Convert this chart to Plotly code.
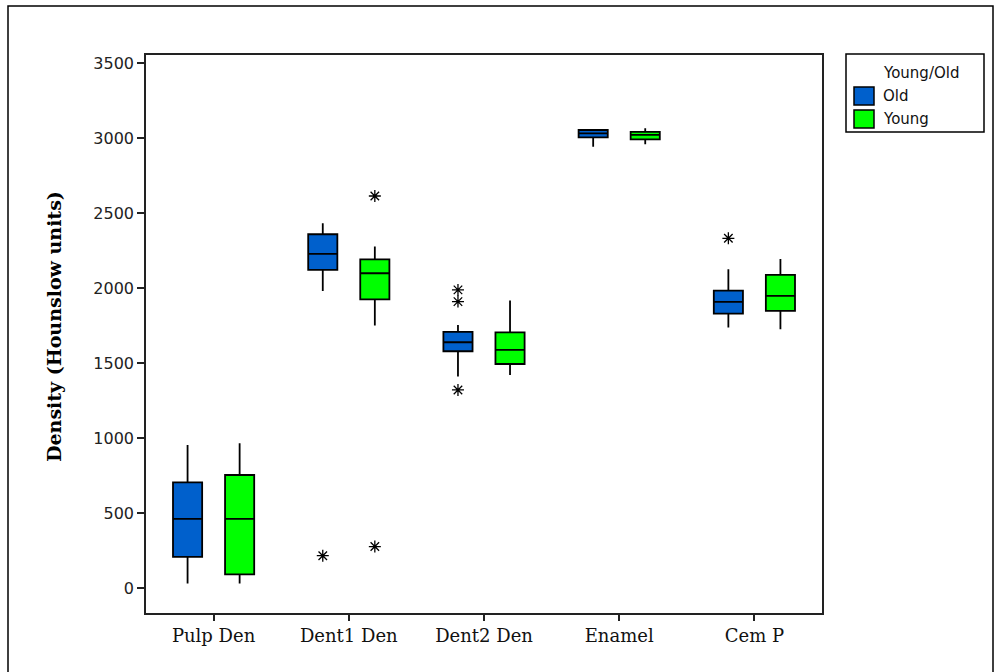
import plotly.graph_objects as go

categories = ["Pulp Den", "Dent1 Den", "Dent2 Den", "Enamel", "Cem P"]

# Old group summary statistics
old_q1 = [207, 2120, 1578, 3004, 1829]
old_median = [460, 2227, 1638, 3031, 1907]
old_q3 = [704, 2358, 1707, 3053, 1982]
old_lower = [29, 1980, 1409, 2942, 1736]
old_upper = [953, 2431, 1753, 3053, 2124]
old_outliers = [[], [215], [1320, 1909, 1987], [], [2331]]

# Young group summary statistics
young_q1 = [91, 1924, 1493, 2991, 1847]
young_median = [460, 2098, 1587, 3020, 1947]
young_q3 = [753, 2191, 1704, 3040, 2087]
young_lower = [29, 1749, 1420, 2958, 1724]
young_upper = [964, 2276, 1916, 3064, 2193]
young_outliers = [[], [276, 2613], [], [], []]

y_ticks = [0, 500, 1000, 1500, 2000, 2500, 3000, 3500]

OLD_COLOR = "#0060CC"
YOUNG_COLOR = "#00FF00"

# plot-area geometry in pixels (for paper-coordinate decorations)
PL, PR, PT, PB = 146, 822, 55, 613


def pxx(x):
    return (x - PL) / (PR - PL)


def pxy(y):
    return (PB - y) / (PB - PT)


def box_trace(name, color, q1, med, q3, lo, hi, outl):
    return go.Box(
        name=name,
        x=categories,
        y=[pts if pts else [m] for pts, m in zip(outl, med)],
        q1=q1, median=med, q3=q3, lowerfence=lo, upperfence=hi,
        boxpoints="outliers",
        jitter=0, pointpos=0,
        whiskerwidth=0,
        fillcolor=color,
        line=dict(color="#000000", width=1.8),
        marker=dict(symbol="asterisk-open", size=10, color="#000000",
                    line=dict(color="#000000", width=1.3)),
        showlegend=False,
        hoverinfo="skip",
    )


fig = go.Figure()
fig.add_trace(box_trace("Old", OLD_COLOR, old_q1, old_median, old_q3,
                        old_lower, old_upper, old_outliers))
fig.add_trace(box_trace("Young", YOUNG_COLOR, young_q1, young_median, young_q3,
                        young_lower, young_upper, young_outliers))

shapes = []
annotations = []

# outer frame
shapes.append(dict(type="rect", xref="paper", yref="paper",
                   x0=pxx(8), x1=pxx(993), y0=pxy(700), y1=pxy(6),
                   line=dict(color="#000000", width=1.5), layer="below"))
# legend frame
shapes.append(dict(type="rect", xref="paper", yref="paper",
                   x0=pxx(846), x1=pxx(984), y0=pxy(132), y1=pxy(54),
                   line=dict(color="#000000", width=1.5)))
legend_items = [("Old", OLD_COLOR, 87, 105), ("Young", YOUNG_COLOR, 110, 128)]
for label, col, ytop, ybot in legend_items:
    shapes.append(dict(type="rect", xref="paper", yref="paper",
                       x0=pxx(854), x1=pxx(874), y0=pxy(ybot), y1=pxy(ytop),
                       fillcolor=col, line=dict(color="#000000", width=1.5)))
    annotations.append(dict(xref="paper", yref="paper", x=pxx(881),
                            y=pxy((ytop + ybot) / 2), text=label,
                            showarrow=False, xanchor="left", yanchor="middle",
                            font=dict(family="DejaVu Sans", size=15, color="#111")))
annotations.append(dict(xref="paper", yref="paper", x=pxx(881), y=pxy(72.5),
                        text="Young/Old", showarrow=False, xanchor="left",
                        yanchor="middle",
                        font=dict(family="DejaVu Sans", size=15, color="#111")))
# y-axis title
annotations.append(dict(xref="paper", yref="paper", x=pxx(54), y=pxy(327),
                        text="<b>Density (Hounslow units)</b>", textangle=-90,
                        showarrow=False, xanchor="center", yanchor="middle",
                        font=dict(family="DejaVu Serif", size=19, color="#000")))

fig.update_layout(
    width=996, height=672,
    margin=dict(l=PL, r=996 - PR, t=PT, b=672 - PB),
    paper_bgcolor="white", plot_bgcolor="white",
    boxmode="group", boxgap=0.23, boxgroupgap=0.44,
    showlegend=False,
    shapes=shapes, annotations=annotations,
    xaxis=dict(
        type="category", categoryorder="array", categoryarray=categories,
        range=[-0.5, 4.5],
        showline=True, mirror=True, linecolor="#222", linewidth=1.5,
        ticks="outside", ticklen=6, tickcolor="#222", tickwidth=1.5,
        showgrid=False, zeroline=False,
        tickfont=dict(family="DejaVu Serif", size=18, color="#111"),
    ),
    yaxis=dict(
        range=[-167, 3553],
        tickvals=y_ticks, ticktext=[str(v) for v in y_ticks],
        showline=True, mirror=True, linecolor="#222", linewidth=1.5,
        ticks="outside", ticklen=7, tickcolor="#222", tickwidth=1.5,
        showgrid=False, zeroline=False,
        tickfont=dict(family="DejaVu Sans", size=16, color="#222"),
    ),
)

fig.write_html("out.html")
